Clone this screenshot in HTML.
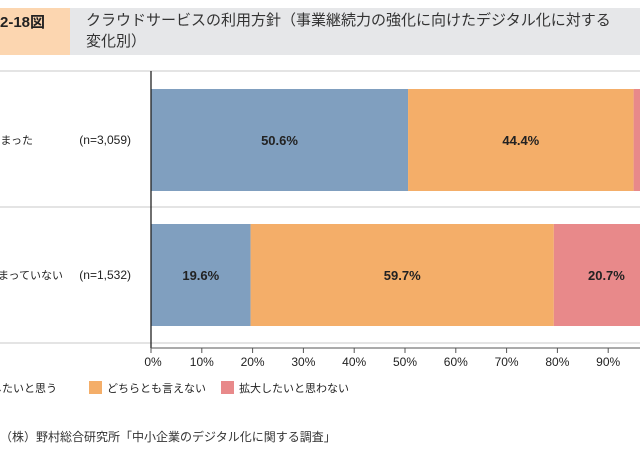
<!DOCTYPE html>
<html><head><meta charset="utf-8"><style>
body{margin:0;width:640px;height:452px;overflow:hidden;background:#fff;font-family:"Liberation Sans","Noto Sans CJK JP",sans-serif;color:#222;position:relative}
.abs{position:absolute;white-space:nowrap}
</style></head><body>
<div class="abs" style="left:0;top:8px;width:640px;height:47px;background:#e6e7e9"></div>
<div class="abs" style="left:0;top:8px;width:70px;height:47px;background:#fcd6b0;font-size:15px;font-weight:bold;line-height:26px;padding-left:0">
<span style="position:absolute;left:0;top:2px">2-18図</span></div>
<div class="abs" style="left:86px;top:10px;font-size:15px;line-height:21px;color:#333">クラウドサービスの利用方針（事業継続力の強化に向けたデジタル化に対する<br>変化別）</div>
<svg class="abs" style="left:0;top:0" width="640" height="452">
<g id="plot"></g>
</svg>
<div class="abs" style="left:0;top:428px;font-size:12px;color:#333">（株）野村総合研究所「中小企業のデジタル化に関する調査」</div>
<script>
const categories=["高まった","高まっていない"];
const nLabels=["(n=3,059)","(n=1,532)"];
const seriesNames=["拡大したいと思う","どちらとも言えない","拡大したいと思わない"];
const seriesA=[50.6,19.6];
const seriesB=[44.4,59.7];
const seriesC=[5.0,20.7];
const ticks=[0,10,20,30,40,50,60,70,80,90,100];
const colors=["#809fbf","#f4ae69","#e8898a"];
const NS="http://www.w3.org/2000/svg";
const g=document.getElementById('plot');
const x0=151,W=508;
const xs=v=>x0+v/100*W;
const rowTop=[89,224],bh=102;
function mk(t,a){const e=document.createElementNS(NS,t);for(const k in a)e.setAttribute(k,a[k]);g.appendChild(e);return e;}
[71,207,343].forEach(y=>{
const l=mk('line',{x1:0,x2:640,y1:y,y2:y,stroke:'#dcdcdc','stroke-width':1.5});


});
const series=[seriesA,seriesB,seriesC];
categories.forEach((c,i)=>{
let acc=0;
series.forEach((s,j)=>{
const v=s[i];
const r=mk('rect',{x:xs(acc),y:rowTop[i],width:xs(acc+v)-xs(acc),height:bh,fill:colors[j]});


if(v>=10){
const t=mk('text',{x:(xs(acc)+xs(acc+v))/2,y:rowTop[i]+bh/2+5,'text-anchor':'middle','font-size':13,'font-weight':'bold',fill:'#222'});
t.textContent=v.toFixed(1)+'%';


}
acc+=v;
});
const yc=rowTop[i]+bh/2+4;
const cl=mk('text',{x:i==0?33:63,y:yc,'text-anchor':'end','font-size':11,fill:'#222'});
cl.textContent=c;


const nl=mk('text',{x:131,y:yc,'text-anchor':'end','font-size':12,fill:'#222'});
nl.textContent=nLabels[i];


});
const ax=mk('line',{x1:x0,x2:x0,y1:71,y2:348,stroke:'#222','stroke-width':1.3});


const bx=mk('line',{x1:x0,x2:640,y1:348,y2:348,stroke:'#555','stroke-width':1});


ticks.forEach(t=>{
const tl=mk('line',{x1:xs(t),x2:xs(t),y1:348,y2:353,stroke:'#555'});


const tt=mk('text',{x:xs(t)+(t==0?2:0),y:366,'text-anchor':'middle','font-size':12,fill:'#222'});
tt.textContent=t+'%';


});
const legX=[-50,89,221];
seriesNames.forEach((n,j)=>{
const r=mk('rect',{x:legX[j],y:381,width:13,height:13,fill:colors[j]});


const t=mk('text',{x:legX[j]+18,y:392,'font-size':11,fill:'#222'});
if(j==0){t.setAttribute('x',57);t.setAttribute('text-anchor','end');}
t.textContent=n;


});
</script>
</body></html>
